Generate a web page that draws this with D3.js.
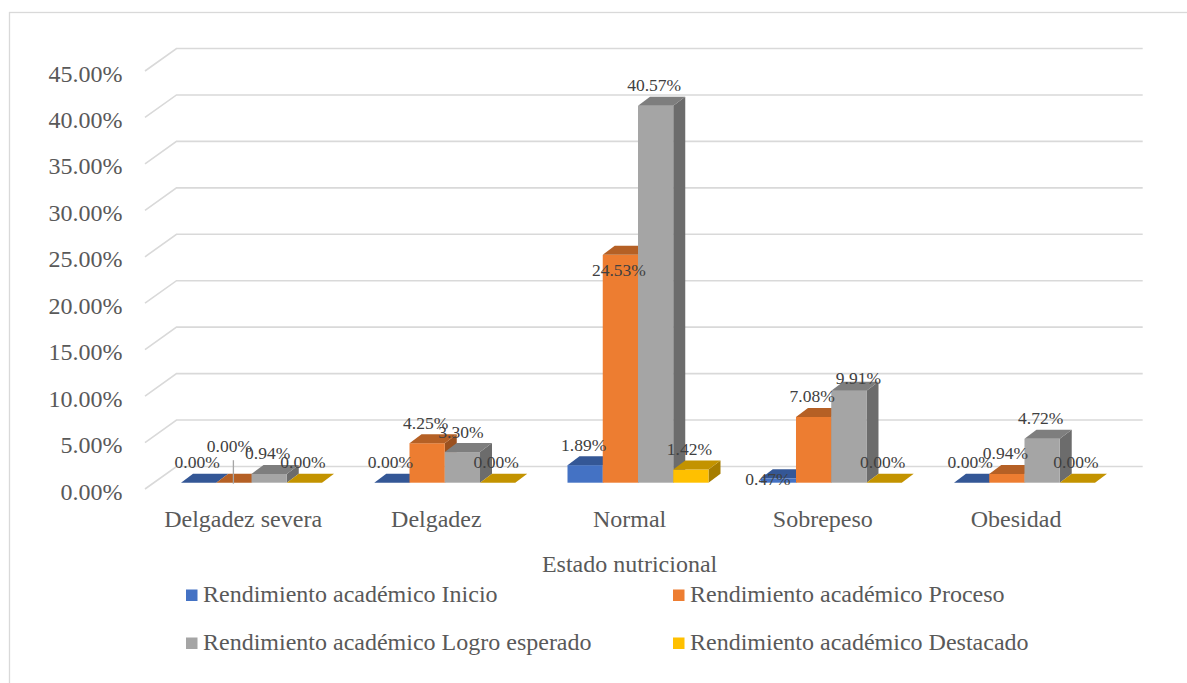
<!DOCTYPE html>
<html>
<head>
<meta charset="utf-8">
<script src="https://cdn.jsdelivr.net/npm/d3@7"></script>
<style>
  html, body { margin: 0; padding: 0; background: #ffffff; }
  svg { display: block; }
  text { font-family: "Liberation Serif", "Times New Roman", serif; fill: #595959; }
</style>
</head>
<body>
<svg id="chart" width="1187" height="683"></svg>
<script>
// ---- data ----
const categories = ["Delgadez severa", "Delgadez", "Normal", "Sobrepeso", "Obesidad"];
const seriesNames = [
  "Rendimiento académico Inicio",
  "Rendimiento académico Proceso",
  "Rendimiento académico Logro esperado",
  "Rendimiento académico Destacado"
];
const inicio    = [0.00, 0.00, 1.89, 0.47, 0.00];
const proceso   = [0.00, 4.25, 24.53, 7.08, 0.94];
const logro     = [0.94, 3.30, 40.57, 9.91, 4.72];
const destacado = [0.00, 0.00, 1.42, 0.00, 0.00];
const yTicks = [0, 5, 10, 15, 20, 25, 30, 35, 40, 45];
const axisTitle = "Estado nutricional";

// ---- layout / style ----
const seriesValues = [inicio, proceso, logro, destacado];
const colors = ["#4472C4", "#ED7D31", "#A5A5A5", "#FFC000"];
const DEPTH_X = 30, DEPTH_Y = 22.5;       // floor depth projection
const BAR_Z0 = 0.28, BAR_Z1 = 0.68;        // bar depth within floor
const labelNudge = {                        // manual label placements
  "0|1": {dx: -3, dy: -16, leader: true},
  "2|1": {dx: 0, dy: 36},
  "3|2": {dx: 11, dy: 8},
  "3|0": {dx: -9, dy: 21}
};
const FONT = "24px";

const svg = d3.select("#chart");
svg.append("rect").attr("width", 1187).attr("height", 683).attr("fill", "#fff");
svg.append("rect").attr("x", 9.5).attr("y", 12.5).attr("width", 1200).attr("height", 700)
  .attr("fill", "none").attr("stroke", "#D9D9D9").attr("stroke-width", 1.3);

const x = d3.scaleBand().domain(categories).range([146.5, 1112.7]);
const groupW = 141;
const xs = d3.scaleBand().domain(d3.range(seriesNames.length)).range([0, groupW]);
const y = d3.scaleLinear().domain([0, 45]).range([489, 71]);

// gridlines: back wall + side wall
const grid = svg.append("g");
yTicks.forEach(t => {
  const yf = y(t), yb = y(t) - DEPTH_Y;
  grid.append("path")
    .attr("d", `M${x.range()[0] - 1.5},${yf} L${x.range()[0] + DEPTH_X},${yb} L${x.range()[1] + DEPTH_X},${yb}`)
    .attr("fill", "none").attr("stroke", "#D9D9D9").attr("stroke-width", 1.6);
});

// y tick labels
svg.append("g").selectAll("text").data(yTicks).join("text")
  .attr("x", 122.5).attr("y", d => y(d) + 10.5)
  .attr("text-anchor", "end").style("font-size", FONT)
  .text(d => d3.format(".2f")(d) + "%");

// bars
const bars = svg.append("g");
const zdx0 = BAR_Z0 * DEPTH_X, zdy0 = BAR_Z0 * DEPTH_Y;
const bdx = (BAR_Z1 - BAR_Z0) * DEPTH_X, bdy = (BAR_Z1 - BAR_Z0) * DEPTH_Y;
const barInfo = [];
categories.forEach((cat, ci) => {
  seriesValues.forEach((vals, si) => {
    const v = vals[ci];
    const x0 = x(cat) + (x.bandwidth() - groupW) / 2 + xs(si) + zdx0;
    const x1 = x0 + xs.bandwidth();
    const yb = y(0) - zdy0;
    const yt = y(v) - zdy0;
    const c = d3.color(colors[si]);
    const top = c.darker(0.75).formatHex();
    const side = c.darker(1.2).formatHex();
    const g = bars.append("g");
    if (v > 0) {
      g.append("path")
        .attr("d", `M${x1},${yt} L${x1 + bdx},${yt - bdy} L${x1 + bdx},${yb - bdy} L${x1},${yb} Z`)
        .attr("fill", side);
      g.append("rect").attr("x", x0).attr("y", yt).attr("width", x1 - x0).attr("height", yb - yt)
        .attr("fill", colors[si]);
    }
    g.append("path")
      .attr("d", `M${x0},${yt} L${x1},${yt} L${x1 + bdx},${yt - bdy} L${x0 + bdx},${yt - bdy} Z`)
      .attr("fill", top);
    barInfo.push({ci, si, v, cx: (x0 + x1) / 2, yt, yb});
  });
});

// data labels
const labels = svg.append("g");
barInfo.forEach(b => {
  const n = labelNudge[b.ci + "|" + b.si] || {dx: 0, dy: 0};
  const lx = b.cx - 1.5 + n.dx;
  const ly = b.yt - 14.5 + n.dy;
  if (n.leader) {
    labels.append("line").attr("x1", b.cx - 0.5).attr("x2", b.cx - 0.5)
      .attr("y1", ly + 8).attr("y2", b.yb + 1)
      .attr("stroke", "#A6A6A6").attr("stroke-width", 1.3);
  }
  labels.append("text").attr("x", lx).attr("y", ly)
    .attr("text-anchor", "middle").style("font-size", "17.5px").style("fill", "#404040")
    .text(d3.format(".2f")(b.v) + "%");
});

// category labels
svg.append("g").selectAll("text").data(categories).join("text")
  .attr("x", d => x(d) + x.bandwidth() / 2).attr("y", 527)
  .attr("text-anchor", "middle").style("font-size", FONT)
  .text(d => d);

// axis title
svg.append("text").attr("x", (x.range()[0] + x.range()[1]) / 2).attr("y", 571.5)
  .attr("text-anchor", "middle").style("font-size", FONT).text(axisTitle);

// legend
const legendPos = [[186, 589.5], [673, 589.5], [186, 637.5], [673, 637.5]];
const legend = svg.append("g");
seriesNames.forEach((name, i) => {
  const [lx, ly] = legendPos[i];
  legend.append("rect").attr("x", lx).attr("y", ly).attr("width", 11.5).attr("height", 11.5)
    .attr("fill", colors[i]);
  legend.append("text").attr("x", lx + 17).attr("y", ly + 12)
    .style("font-size", FONT).text(name);
});
</script>
</body>
</html>
